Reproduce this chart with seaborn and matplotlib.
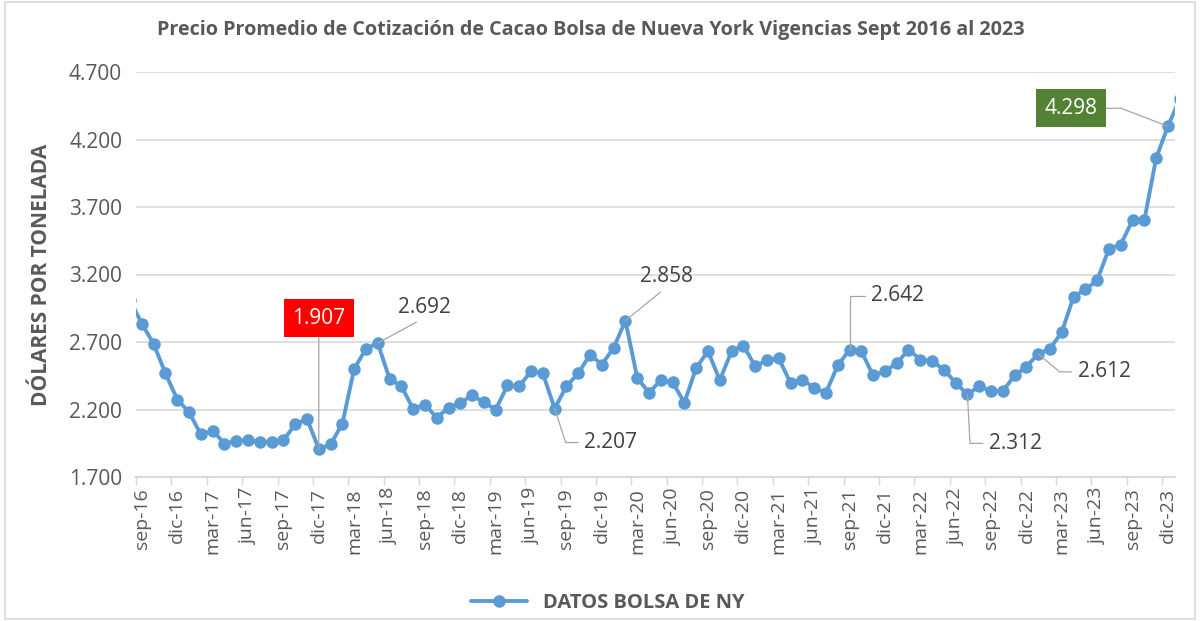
import pandas as pd
import matplotlib.pyplot as plt
import seaborn as sns
from matplotlib.patches import Rectangle
from matplotlib.ticker import FuncFormatter

# meses (ago-16 .. ene-24); ago-16 y ene-24 quedan fuera del eje como en el original
nombres_mes = ['ene', 'feb', 'mar', 'abr', 'may', 'jun', 'jul', 'ago', 'sep', 'oct', 'nov', 'dic']
meses = []
for anio in range(16, 25):
    for m in nombres_mes:
        meses.append(f"{m}-{anio}")
meses = meses[meses.index('ago-16'):meses.index('ene-24') + 1]

precios = [3010,
           2835, 2685, 2467, 2274,
           2180, 2015, 2044, 1948, 1965, 1973, 1961, 1961, 1973, 2089, 2131, 1907,
           1941, 2096, 2501, 2650, 2692, 2427, 2373, 2205, 2237, 2139, 2213, 2250,
           2304, 2254, 2200, 2378, 2373, 2484, 2467, 2207, 2373, 2467, 2607, 2533,
           2657, 2858, 2435, 2324, 2417, 2402, 2250, 2509, 2632, 2417, 2632, 2674,
           2521, 2565, 2578, 2398, 2422, 2360, 2324, 2526, 2642, 2632, 2452, 2484,
           2541, 2644, 2570, 2558, 2496, 2398, 2312, 2373, 2336, 2336, 2452, 2517,
           2612, 2650, 2773, 3035, 3089, 3158, 3390, 3422, 3602, 3602, 4061, 4298,
           4500]

y_ticks = [1700, 2200, 2700, 3200, 3700, 4200, 4700]

df = pd.DataFrame({'mes': meses, 'precio': precios})
df['pos'] = range(-1, len(df) - 1)

azul = '#5B9BD5'
gris = '#595959'
gris_linea = '#D9D9D9'

sns.set_theme(style='white')
plt.rcParams['font.family'] = ['Open Sans', 'DejaVu Sans']

fig = plt.figure(figsize=(12, 6.21), dpi=100)
ax = fig.add_axes([136 / 1200, 1 - 477 / 621, (1175 - 136) / 1200, (477 - 72) / 621])

sns.lineplot(data=df, x='pos', y='precio', ax=ax, color=azul, linewidth=2.8,
             marker='o', markersize=9, markeredgewidth=0, label='DATOS BOLSA DE NY')

ax.set_xlim(-0.5, 87.6)
ax.set_ylim(y_ticks[0], y_ticks[-1])
ax.set_yticks(y_ticks)
ax.yaxis.set_major_formatter(FuncFormatter(lambda v, p: f"{v:,.0f}".replace(',', '.')))
ax.grid(axis='y', color=gris_linea, linewidth=1.2)
ax.set_axisbelow(True)

# etiquetas cada 3 meses, marcas entre meses
pos_etq = list(range(0, 88, 3))
ax.set_xticks(pos_etq)
ax.set_xticklabels([df.loc[df['pos'] == p, 'mes'].iloc[0] for p in pos_etq], rotation=90)
ax.set_xticks([p - 0.5 for p in pos_etq], minor=True)
ax.tick_params(axis='x', which='major', length=0, pad=8, labelsize=14, labelcolor=gris)
ax.tick_params(axis='x', which='minor', length=6, width=1, color=gris_linea, bottom=True)
ax.tick_params(axis='y', length=0, pad=10, labelsize=15, labelcolor=gris)

for s in ['top', 'right', 'left']:
    ax.spines[s].set_visible(False)
ax.spines['bottom'].set_color(gris_linea)
ax.spines['bottom'].set_linewidth(1.5)

ax.set_xlabel('')
ax.set_ylabel('DÓLARES POR TONELADA', fontsize=15, fontweight='bold', color=gris, labelpad=12)

fig.text(591 / 1200, 1 - 30 / 621, 'Precio Promedio de Cotización de Cacao Bolsa de Nueva York Vigencias Sept 2016 al 2023',
         ha='center', va='center', fontsize=14.2, fontweight='bold', color=gris)

# etiquetas de datos (desplazamientos en px respecto al punto)
linea = dict(arrowstyle='-', color='#A6A6A6', lw=0.9, shrinkA=2, shrinkB=0)
etiquetas = [
    ('dic-17', 0, 131, (0.5, 0), 'arc3', 'red'),
    ('may-18', 47, 36, (0.5, 0), 'arc3', None),
    ('ago-19', 56, -34, (0, 0.5), 'angle,angleA=0,angleB=-72,rad=0', None),
    ('feb-20', 41, 44, (0.5, 0), 'arc3', None),
    ('sep-21', 48, 54, (0, 0.5), 'angle,angleA=0,angleB=90,rad=0', None),
    ('jul-22', 48, -49, (0, 0.5), 'angle,angleA=0,angleB=-87,rad=0', None),
    ('ene-23', 66, -18, (0, 0.5), 'angle,angleA=0,angleB=-40,rad=0', None),
    ('dic-23', -97, 18, (1, 0.5), 'angle,angleA=0,angleB=-21,rad=0', '#548235'),
]
for mes, dx, dy, rel, conn, caja in etiquetas:
    fila = df[df['mes'] == mes].iloc[0]
    txt = f"{fila['precio'] / 1000:.3f}"
    props = dict(linea, relpos=rel, connectionstyle=conn)
    kw = {}
    if caja:
        kw['bbox'] = dict(boxstyle='square,pad=0.4', fc=caja, ec='none')
        props['shrinkA'] = 0
    ax.annotate(txt, xy=(fila['pos'], fila['precio']), xytext=(dx * 0.72, dy * 0.72),
                textcoords='offset points', ha='center', va='center', fontsize=15,
                color='white' if caja else '#404040', arrowprops=props, annotation_clip=False, **kw)

ax.legend(loc='center', bbox_to_anchor=(608 / 1200, 1 - 603 / 621), bbox_transform=fig.transFigure,
          frameon=False, handlelength=2.8, prop={'size': 14.5, 'weight': 'bold'}, labelcolor=gris)

fig.patches.append(Rectangle((0.004, 0.004), 0.992, 0.992, transform=fig.transFigure,
                             fill=False, ec=gris_linea, lw=1.2))

fig.savefig('out.png', dpi=100)
